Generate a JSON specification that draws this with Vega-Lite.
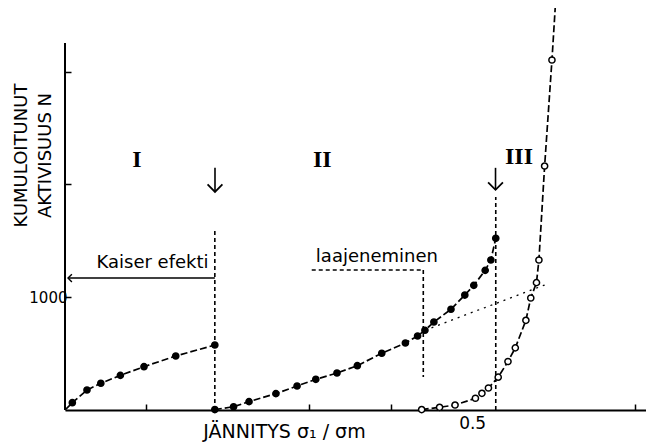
{
  "$schema": "https://vega.github.io/schema/vega-lite/v6.json",
  "width": 581,
  "height": 410,
  "autosize": {"type": "none"},
  "padding": {"left": 65, "top": 0, "right": 0, "bottom": 37},
  "background": "white",
  "config": {
    "view": {"stroke": null},
    "axis": {
      "grid": false,
      "labelFont": "DejaVu Sans",
      "titleFont": "DejaVu Sans",
      "labelColor": "black",
      "titleColor": "black",
      "domainColor": "black",
      "tickColor": "black",
      "titleFontWeight": "normal"
    },
    "text": {"font": "DejaVu Sans", "color": "black"}
  },
  "datasets": {
    "kayrat": [
      {"vaihe": "I", "x": 0.0, "y": 0, "merkki": false},
      {"vaihe": "I", "x": 0.009, "y": 65, "merkki": true},
      {"vaihe": "I", "x": 0.027, "y": 177, "merkki": true},
      {"vaihe": "I", "x": 0.044, "y": 237, "merkki": true},
      {"vaihe": "I", "x": 0.068, "y": 307, "merkki": true},
      {"vaihe": "I", "x": 0.097, "y": 384, "merkki": true},
      {"vaihe": "I", "x": 0.136, "y": 479, "merkki": true},
      {"vaihe": "I", "x": 0.184, "y": 576, "merkki": true},
      {"vaihe": "II", "x": 0.184, "y": 4, "merkki": true},
      {"vaihe": "II", "x": 0.207, "y": 29, "merkki": true},
      {"vaihe": "II", "x": 0.226, "y": 74, "merkki": true},
      {"vaihe": "II", "x": 0.259, "y": 145, "merkki": true},
      {"vaihe": "II", "x": 0.285, "y": 213, "merkki": true},
      {"vaihe": "II", "x": 0.308, "y": 272, "merkki": true},
      {"vaihe": "II", "x": 0.334, "y": 328, "merkki": true},
      {"vaihe": "II", "x": 0.359, "y": 393, "merkki": true},
      {"vaihe": "II", "x": 0.389, "y": 503, "merkki": true},
      {"vaihe": "II", "x": 0.418, "y": 594, "merkki": true},
      {"vaihe": "II", "x": 0.433, "y": 656, "merkki": true},
      {"vaihe": "II", "x": 0.442, "y": 707, "merkki": true},
      {"vaihe": "II", "x": 0.453, "y": 780, "merkki": true},
      {"vaihe": "II", "x": 0.474, "y": 893, "merkki": true},
      {"vaihe": "II", "x": 0.491, "y": 1019, "merkki": true},
      {"vaihe": "II", "x": 0.502, "y": 1105, "merkki": true},
      {"vaihe": "II", "x": 0.516, "y": 1238, "merkki": true},
      {"vaihe": "II", "x": 0.523, "y": 1330, "merkki": true},
      {"vaihe": "II", "x": 0.529, "y": 1522, "merkki": true},
      {"vaihe": "III", "x": 0.438, "y": 4, "merkki": true},
      {"vaihe": "III", "x": 0.46, "y": 24, "merkki": true},
      {"vaihe": "III", "x": 0.479, "y": 44, "merkki": true},
      {"vaihe": "III", "x": 0.504, "y": 104, "merkki": true},
      {"vaihe": "III", "x": 0.512, "y": 148, "merkki": true},
      {"vaihe": "III", "x": 0.52, "y": 195, "merkki": true},
      {"vaihe": "III", "x": 0.532, "y": 291, "merkki": true},
      {"vaihe": "III", "x": 0.544, "y": 430, "merkki": true},
      {"vaihe": "III", "x": 0.553, "y": 551, "merkki": true},
      {"vaihe": "III", "x": 0.566, "y": 795, "merkki": true},
      {"vaihe": "III", "x": 0.572, "y": 993, "merkki": true},
      {"vaihe": "III", "x": 0.579, "y": 1129, "merkki": true},
      {"vaihe": "III", "x": 0.582, "y": 1330, "merkki": true},
      {"vaihe": "III", "x": 0.589, "y": 2163, "merkki": true},
      {"vaihe": "III", "x": 0.598, "y": 3103, "merkki": true},
      {"vaihe": "III", "x": 0.602, "y": 3564, "merkki": false}
    ],
    "apuviivat": [
      {"osa": "y-akseli", "x": 0, "x2": 0, "y": 0, "y2": 3253},
      {"osa": "kaiser", "x": 0.0037, "x2": 0.184, "y": 1170, "y2": 1170},
      {"osa": "raja", "x": 0.184, "x2": 0.184, "y": 0, "y2": 1613},
      {"osa": "raja", "x": 0.529, "x2": 0.529, "y": 0, "y2": 1888},
      {"osa": "laajeneminen", "x": 0.303, "x2": 0.44, "y": 1241, "y2": 1241},
      {"osa": "laajeneminen", "x": 0.44, "x2": 0.44, "y": 1241, "y2": 293},
      {"osa": "tangentti", "x": 0.442, "x2": 0.589, "y": 707, "y2": 1108},
      {"osa": "nuoli", "x": 0.1842, "x2": 0.1842, "y": 2147, "y2": 1934},
      {"osa": "nuoli", "x": 0.5287, "x2": 0.5287, "y": 2147, "y2": 1952}
    ],
    "karjet": [
      {"suunta": "alas", "x": 0.1842, "y": 1934},
      {"suunta": "alas", "x": 0.5287, "y": 1952},
      {"suunta": "vasen", "x": 0.0037, "y": 1170}
    ],
    "tekstit": [
      {"laji": "vaihe", "teksti": "I", "x": 0.0884, "y": 2216},
      {"laji": "vaihe", "teksti": "II", "x": 0.316, "y": 2216},
      {"laji": "vaihe", "teksti": "III", "x": 0.5575, "y": 2243},
      {"laji": "selite", "teksti": "Kaiser efekti", "x": 0.1075, "y": 1259},
      {"laji": "selite", "teksti": "laajeneminen", "x": 0.383, "y": 1312}
    ]
  },
  "encoding": {
    "x": {
      "field": "x",
      "type": "quantitative",
      "scale": {"domain": [0, 0.7135], "nice": false, "zero": false},
      "axis": {
        "values": [0.1, 0.3, 0.4, 0.5, 0.7],
        "labelExpr": "datum.value == 0.5 ? '0.5' : ''",
        "tickSize": -6,
        "tickWidth": 1.5,
        "tickOpacity": {"condition": {"test": "datum.value == 0.5", "value": 0}, "value": 1},
        "domainWidth": 2,
        "labelFontSize": 17,
        "labelPadding": 11,
        "title": "JÄNNITYS  σ₁ / σm",
        "titleFontSize": 19,
        "titleX": 219,
        "titleY": 21,
        "titleBaseline": "middle"
      }
    },
    "y": {
      "field": "y",
      "type": "quantitative",
      "scale": {"domain": [0, 3635], "nice": false, "zero": false},
      "axis": {
        "values": [1000, 2000, 3000],
        "labelExpr": "datum.value == 1000 ? '1000' : ''",
        "domain": false,
        "tickSize": -6,
        "tickWidth": 1.5,
        "labelFontSize": 15,
        "labelPadding": 4,
        "title": ["KUMULOITUNUT", "AKTIVISUUS N"],
        "titleFontSize": 18,
        "titleLineHeight": 24,
        "titleAngle": -90,
        "titleX": -44,
        "titleY": 155,
        "titleAlign": "center",
        "titleBaseline": "middle"
      }
    }
  },
  "layer": [
    {
      "data": {"name": "apuviivat"},
      "transform": [{"filter": "datum.osa == 'y-akseli'"}],
      "mark": {"type": "rule", "color": "black", "strokeWidth": 2},
      "encoding": {"x2": {"field": "x2"}, "y2": {"field": "y2"}}
    },
    {
      "data": {"name": "apuviivat"},
      "transform": [{"filter": "datum.osa == 'kaiser' || datum.osa == 'nuoli'"}],
      "mark": {"type": "rule", "color": "black", "strokeWidth": 1.6},
      "encoding": {"x2": {"field": "x2"}, "y2": {"field": "y2"}}
    },
    {
      "data": {"name": "apuviivat"},
      "transform": [{"filter": "datum.osa == 'raja' || datum.osa == 'laajeneminen'"}],
      "mark": {"type": "rule", "color": "black", "strokeWidth": 1.6, "strokeDash": [4, 3]},
      "encoding": {"x2": {"field": "x2"}, "y2": {"field": "y2"}}
    },
    {
      "data": {"name": "apuviivat"},
      "transform": [{"filter": "datum.osa == 'tangentti'"}],
      "mark": {"type": "rule", "color": "black", "strokeWidth": 1.3, "strokeDash": [2, 5]},
      "encoding": {"x2": {"field": "x2"}, "y2": {"field": "y2"}}
    },
    {
      "data": {"name": "karjet"},
      "transform": [{"filter": "datum.suunta == 'alas'"}],
      "mark": {"type": "point", "shape": "M-1,-1L0,0L1,-1", "size": 220, "stroke": "black", "strokeWidth": 1.8, "filled": false, "opacity": 1}
    },
    {
      "data": {"name": "karjet"},
      "transform": [{"filter": "datum.suunta == 'vasen'"}],
      "mark": {"type": "point", "shape": "M1,-1L0,0L1,1", "size": 60, "stroke": "black", "strokeWidth": 1.4, "filled": false, "opacity": 1}
    },
    {
      "data": {"name": "kayrat"},
      "mark": {"type": "line", "color": "black", "strokeWidth": 1.7, "strokeDash": [7, 3]},
      "encoding": {"detail": {"field": "vaihe"}}
    },
    {
      "data": {"name": "kayrat"},
      "transform": [{"filter": "datum.merkki"}],
      "mark": {"type": "point", "shape": "circle", "size": 38, "stroke": "black", "strokeWidth": 1.5, "opacity": 1},
      "encoding": {
        "fill": {
          "field": "vaihe",
          "type": "nominal",
          "scale": {"domain": ["I", "II", "III"], "range": ["black", "black", "white"]},
          "legend": null
        }
      }
    },
    {
      "data": {"name": "tekstit"},
      "transform": [{"filter": "datum.laji == 'vaihe'"}],
      "mark": {"type": "text", "font": "Liberation Serif", "fontWeight": "bold", "fontSize": 24, "align": "center", "baseline": "middle"},
      "encoding": {"text": {"field": "teksti"}}
    },
    {
      "data": {"name": "tekstit"},
      "transform": [{"filter": "datum.laji == 'selite'"}],
      "mark": {"type": "text", "fontSize": 18, "align": "center", "baseline": "alphabetic"},
      "encoding": {"text": {"field": "teksti"}}
    }
  ]
}
